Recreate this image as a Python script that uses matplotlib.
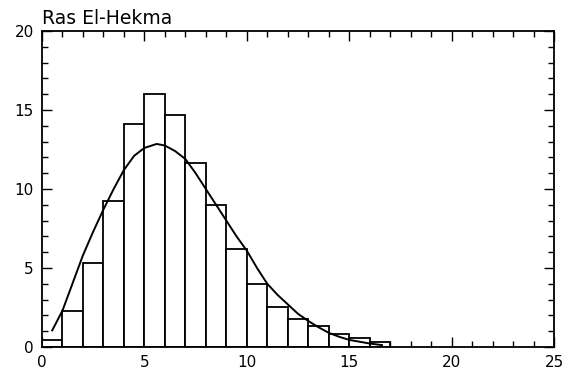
import numpy as np
import matplotlib
matplotlib.use('Agg')
import matplotlib.pyplot as plt
from matplotlib.ticker import MultipleLocator

# histogram counts, bins of width 1 starting at 0
bin_left = np.arange(0, 17)
counts = [0.45, 2.3, 5.3, 9.25, 14.1, 16.0, 14.7, 11.65, 9.0, 6.2,
          4.0, 2.5, 1.78, 1.3, 0.85, 0.55, 0.33]

# fitted curve, points
fit_x = [0.5, 1.0, 1.5, 2.0, 2.5, 3.0, 3.5, 4.0, 4.5, 5.0, 5.6, 6.0, 6.5,
         7.0, 7.5, 8.0, 8.5, 9.0, 9.5, 10.0, 10.5, 11.0, 11.5, 12.0, 12.5,
         13.0, 13.5, 14.0, 14.5, 15.0, 16.0, 16.6]
fit_y = [1.05, 2.3, 4.05, 5.8, 7.3, 8.7, 10.0, 11.2, 12.1, 12.6, 12.85,
         12.75, 12.4, 11.9, 11.0, 10.0, 9.0, 8.0, 7.0, 6.1, 5.0, 4.0, 3.3,
         2.7, 2.1, 1.65, 1.25, 0.9, 0.65, 0.45, 0.22, 0.12]

title = 'Ras El-Hekma'

plt.rcParams['font.family'] = ['DejaVu Sans']

fig = plt.figure(figsize=(5.75, 3.77), dpi=100)
ax = fig.add_axes([0.073, 0.0796, 0.8905, 0.8382])

ax.bar(bin_left, counts, width=1.0, align='edge', facecolor='white',
       edgecolor='black', linewidth=1.3, zorder=2)
ax.plot(fit_x, fit_y, color='black', linewidth=1.4, zorder=3)

ax.set_xlim(0, 25)
ax.set_ylim(0, 20)
ax.xaxis.set_major_locator(MultipleLocator(5))
ax.xaxis.set_minor_locator(MultipleLocator(1))
ax.yaxis.set_major_locator(MultipleLocator(5))
ax.yaxis.set_minor_locator(MultipleLocator(1))
ax.tick_params(which='both', direction='in', top=True, right=True,
               labelsize=11, width=1.0)
ax.tick_params(which='major', length=7, pad=6)
ax.tick_params(which='minor', length=4)
for s in ax.spines.values():
    s.set_linewidth(1.3)

ax.text(0.0, 1.01, title, transform=ax.transAxes, fontsize=13.5,
        ha='left', va='bottom')

fig.savefig('out.png', dpi=100)
